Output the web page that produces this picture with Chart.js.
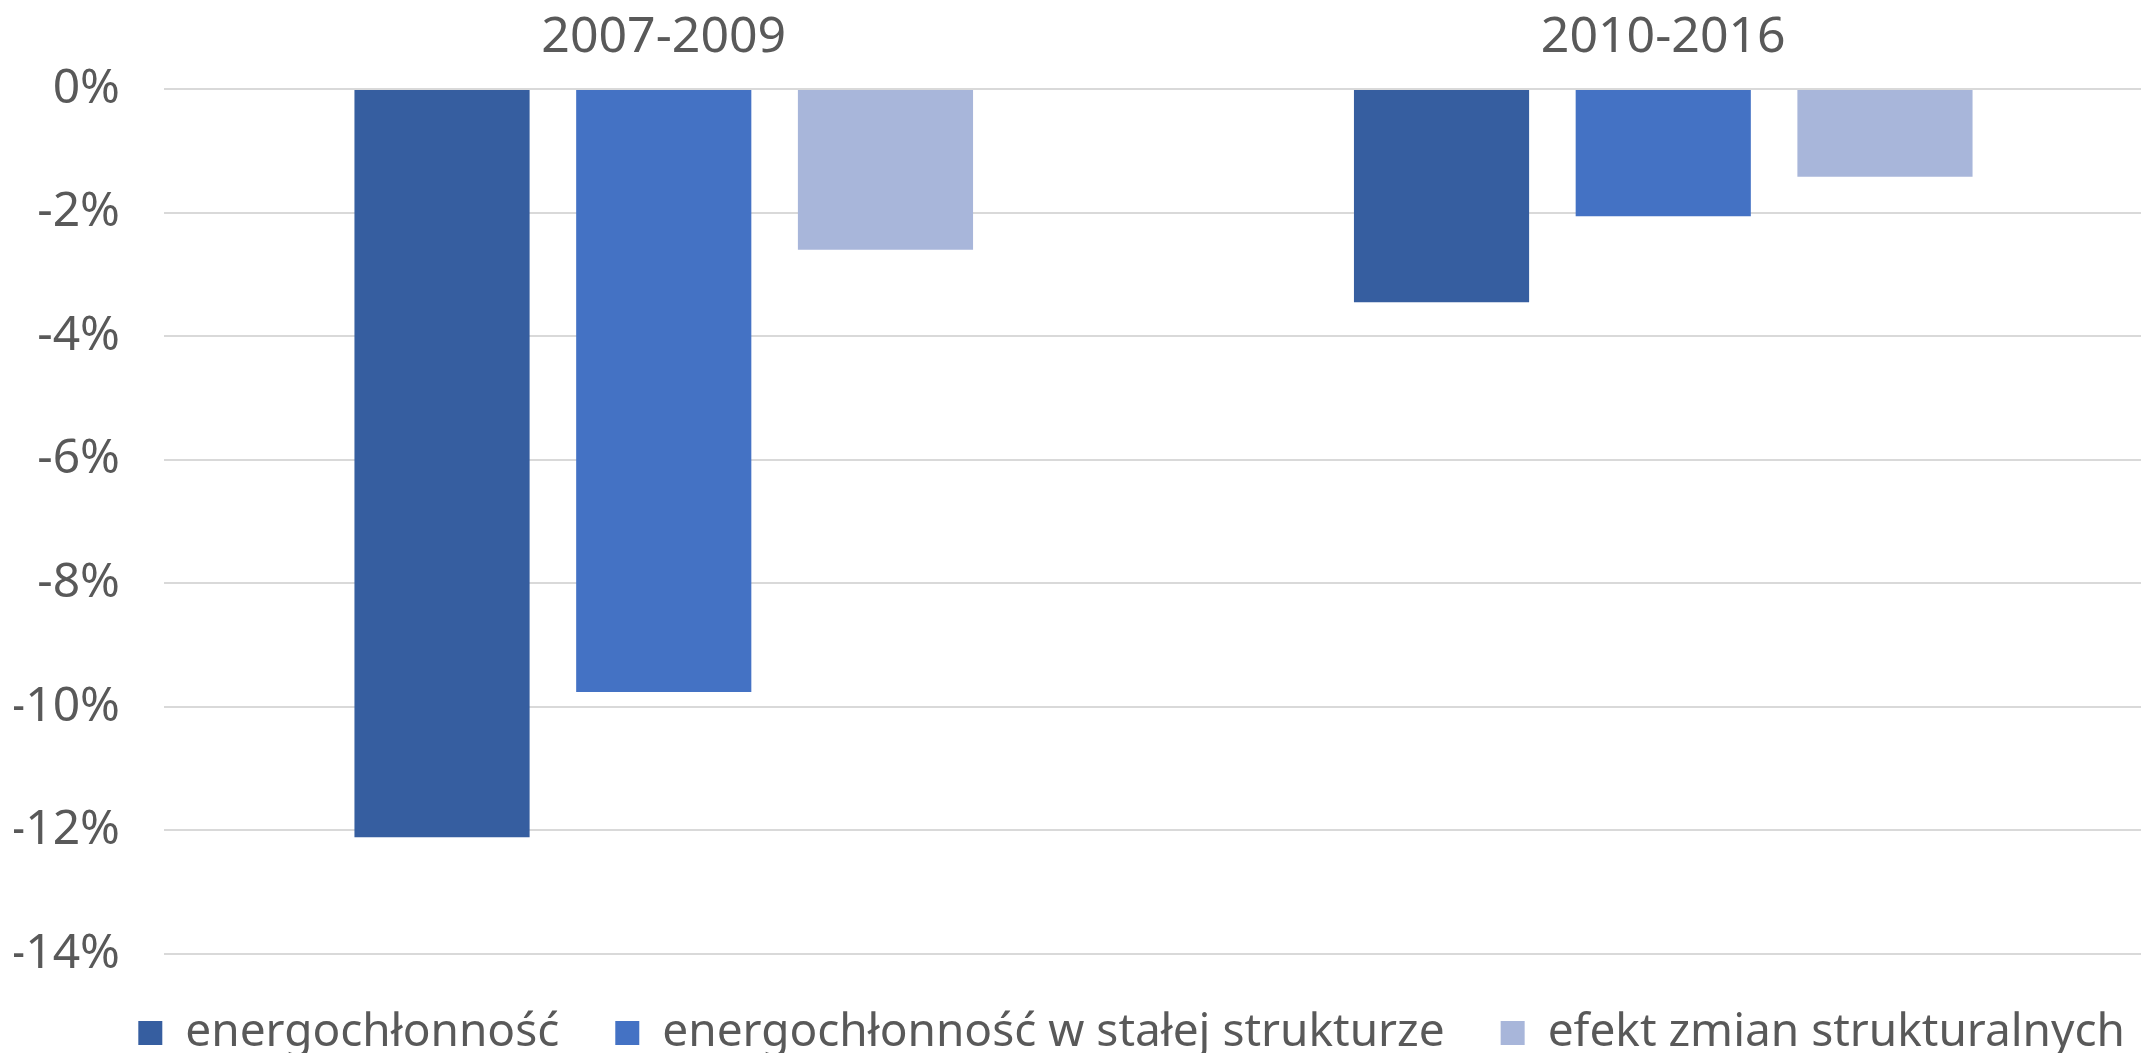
<!DOCTYPE html>
<html>
<head>
<meta charset="utf-8">
<script src="https://cdn.jsdelivr.net/npm/chart.js@4/dist/chart.umd.min.js"></script>
<style>
    html, body { margin: 0; padding: 0; background: #fff; overflow: hidden; }
    #wrap { width: 2163px; height: 1066px; }
</style>
</head>
<body>
<div id="wrap"><canvas id="chart" width="2163" height="1066"></canvas></div>
<script>
const periods = ['2007-2009', '2010-2016'];
const seriesNames = ['energochłonność', 'energochłonność w stałej strukturze', 'efekt zmian strukturalnych'];
const energyIntensity = [-12.11, -3.45];
const constantStructure = [-9.76, -2.06];
const structuralEffect = [-2.60, -1.42];
const seriesColors = ['#365EA0', '#4472C4', '#A8B6DA'];
const yTicks = [0, -2, -4, -6, -8, -10, -12, -14];

const FONT = "'Noto Sans', sans-serif";
const TEXT = '#595959';

// nudge the legend row a bit to the right, the original is not centred
const legendShift = {
    id: 'legendShift',
    afterLayout: chart => {
        chart.legend.left += 18;
        chart.legend.right += 18;
    }
};

// the plot runs a little past the right edge of the window, like the original
new Chart(document.getElementById('chart'), {
    type: 'bar',
    data: {
        labels: periods,
        datasets: [energyIntensity, constantStructure, structuralEffect].map((vals, i) => ({
            label: seriesNames[i],
            data: vals,
            backgroundColor: seriesColors[i],
            borderWidth: 0,
            categoryPercentage: 0.6655,
            barPercentage: 0.79
        }))
    },
    options: {
        responsive: false,
        animation: false,
        layout: { padding: { left: 14, right: 0, top: 0, bottom: 0 } },
        plugins: {
            tooltip: { enabled: false },
            legend: {
                position: 'bottom',
                align: 'end',
                labels: { color: TEXT, font: { family: FONT, size: 46 }, boxWidth: 24, boxHeight: 24, padding: 56 }
            }
        },
        scales: {
            x: {
                position: 'top',
                grid: { display: false, drawTicks: false },
                border: { display: false },
                ticks: { color: TEXT, font: { family: FONT, size: 50 }, padding: 21 },
                afterFit: s => { s.height = 89; }
            },
            y: {
                min: yTicks[yTicks.length - 1],
                max: yTicks[0],
                afterBuildTicks: s => { s.ticks = yTicks.map(v => ({ value: v })); },
                ticks: { color: TEXT, font: { family: FONT, size: 48 }, padding: 44, callback: v => v + '%' },
                grid: { color: '#D9D9D9', lineWidth: 2, drawTicks: false },
                border: { display: false },
                afterFit: s => { s.width = 150; }
            }
        }
    },
    plugins: [legendShift]
});
</script>
</body>
</html>
